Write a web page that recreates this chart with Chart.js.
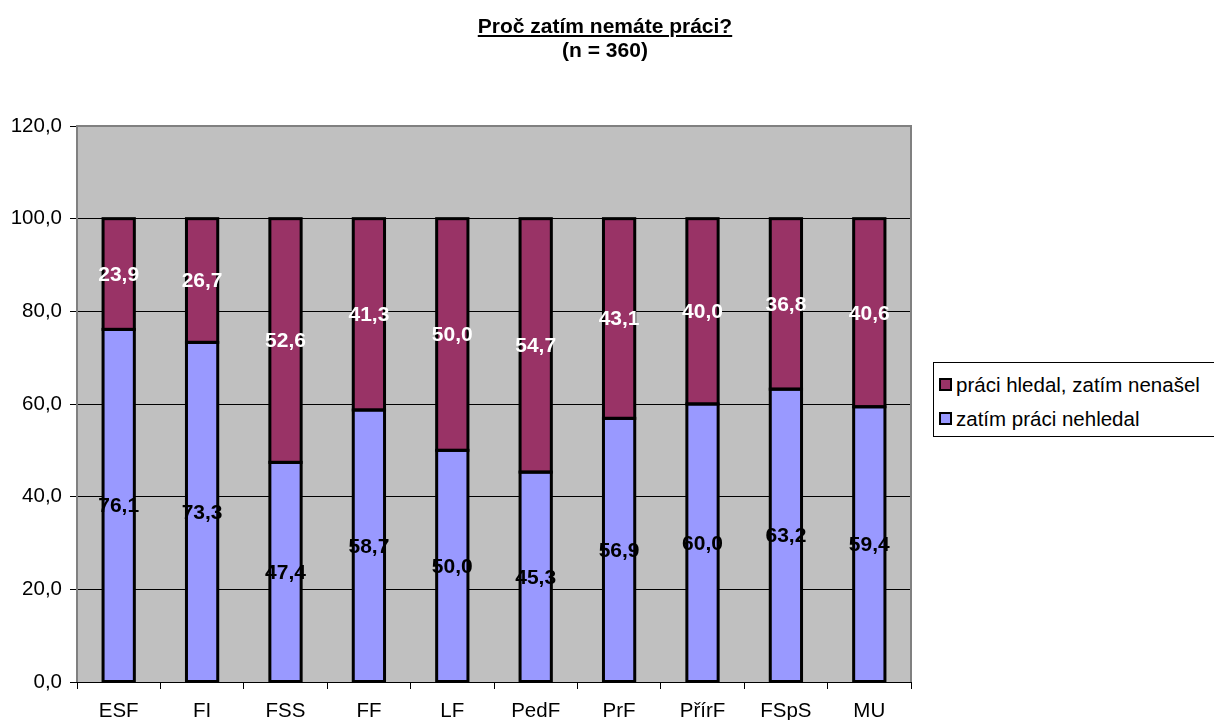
<!DOCTYPE html>
<html>
<head>
<meta charset="utf-8">
<script src="https://cdn.jsdelivr.net/npm/chart.js@4"></script>
<style>
  html, body { margin: 0; padding: 0; background: #fff; }
  #wrap { position: relative; width: 1214px; height: 720px; overflow: hidden; font-family: "Liberation Sans", Arial, sans-serif; }
  #title { position: absolute; left: 355px; width: 500px; top: 14px; text-align: center; font-weight: bold; font-size: 21px; line-height: 24px; color: #000; }
  #title .u { text-decoration: underline; }
  #legend { position: absolute; left: 933px; top: 362px; width: 320px; height: 75px; border: 1px solid #000; background: #fff; box-sizing: border-box; }
  .li { position: absolute; left: 5px; font-size: 20.5px; line-height: 24px; color: #000; white-space: nowrap; }
  .sw { display: inline-block; width: 9px; height: 9px; border: 2px solid #000; vertical-align: middle; margin-right: 4px; position: relative; top: -2px; }
  canvas { position: absolute; left: 0; top: 0; }
</style>
</head>
<body>
<div id="wrap">
  <canvas id="c" width="1214" height="720"></canvas>
  <div id="title"><span class="u">Proč zatím nemáte práci?</span><br>(n = 360)</div>
  <div id="legend">
    <div class="li" style="top:10px"><span class="sw" style="background:#993366"></span>práci hledal, zatím nenašel</div>
    <div class="li" style="top:44px"><span class="sw" style="background:#9999FF"></span>zatím práci nehledal</div>
  </div>
</div>
<script>
const categories = ["ESF", "FI", "FSS", "FF", "LF", "PedF", "PrF", "PřírF", "FSpS", "MU"];
const notSearched = [76.1, 73.3, 47.4, 58.7, 50.0, 45.3, 56.9, 60.0, 63.2, 59.4];
const searchedNotFound = [23.9, 26.7, 52.6, 41.3, 50.0, 54.7, 43.1, 40.0, 36.8, 40.6];
const seriesNames = ["zatím práci nehledal", "práci hledal, zatím nenašel"];
const yTicks = [0, 20, 40, 60, 80, 100, 120];

const fmt = v => v.toFixed(1).replace('.', ',');

const bgPlugin = {
  id: 'bg',
  beforeDraw(chart) {
    const a = chart.chartArea, ctx = chart.ctx;
    ctx.save();
    ctx.fillStyle = '#C0C0C0';
    ctx.fillRect(a.left, a.top, a.right - a.left, a.bottom - a.top);
    ctx.restore();
  },
  afterDraw(chart) {
    const a = chart.chartArea, ctx = chart.ctx;
    ctx.save();
    ctx.strokeStyle = '#808080';
    ctx.lineWidth = 2;
    ctx.beginPath();
    ctx.moveTo(a.left, a.bottom);
    ctx.lineTo(a.left, a.top);
    ctx.lineTo(a.right, a.top);
    ctx.lineTo(a.right, a.bottom);
    ctx.stroke();
    ctx.strokeStyle = '#000';
    ctx.lineWidth = 1;
    ctx.beginPath();
    ctx.moveTo(a.left, a.bottom + 0.5);
    ctx.lineTo(a.right, a.bottom + 0.5);
    ctx.stroke();
    ctx.restore();
  }
};

const labelPlugin = {
  id: 'vals',
  afterDatasetsDraw(chart) {
    const ctx = chart.ctx;
    ctx.save();
    // bar outlines, from the library's bar elements
    ctx.strokeStyle = '#000';
    ctx.lineWidth = 3;
    ctx.lineJoin = 'miter';
    chart.data.datasets.forEach((ds, i) => {
      chart.getDatasetMeta(i).data.forEach(el => {
        const w = el.width;
        ctx.strokeRect(el.x - w / 2, Math.min(el.y, el.base), w, Math.abs(el.base - el.y));
      });
    });
    ctx.font = 'bold 21px "Liberation Sans", Arial, sans-serif';
    ctx.textAlign = 'center';
    ctx.textBaseline = 'middle';
    chart.data.datasets.forEach((ds, i) => {
      const meta = chart.getDatasetMeta(i);
      ctx.fillStyle = i === 0 ? '#000' : '#fff';
      meta.data.forEach((el, j) => {
        ctx.fillText(fmt(ds.data[j]), el.x, (el.y + el.base) / 2 + 1);
      });
    });
    ctx.restore();
  }
};

new Chart(document.getElementById('c'), {
  type: 'bar',
  data: {
    labels: categories,
    datasets: [
      { label: seriesNames[0], data: notSearched, backgroundColor: '#9999FF', borderWidth: 0, inflateAmount: 0, barPercentage: 0.375, categoryPercentage: 1 },
      { label: seriesNames[1], data: searchedNotFound, backgroundColor: '#993366', borderWidth: 0, inflateAmount: 0, barPercentage: 0.375, categoryPercentage: 1 }
    ]
  },
  options: {
    responsive: false,
    animation: false,
    devicePixelRatio: 1,
    layout: { padding: { top: 126, right: 303, left: 0, bottom: 0 } },
    plugins: { legend: { display: false }, title: { display: false }, tooltip: { enabled: false } },
    scales: {
      x: {
        stacked: true,
        grid: { display: true, drawOnChartArea: false, color: '#000', tickLength: 7, offset: true },
        border: { display: false },
        ticks: { color: '#000', font: { size: 20.5, family: '"Liberation Sans", Arial, sans-serif' }, padding: 10, maxRotation: 0 },
        afterFit(s) { s.height = 38; }
      },
      y: {
        stacked: true,
        min: 0, max: 120,
        afterBuildTicks(s) { s.ticks = yTicks.map(v => ({ value: v })); },
        grid: { color: '#000', lineWidth: 1, tickLength: 7 },
        border: { display: false },
        ticks: { color: '#000', font: { size: 20.5, family: '"Liberation Sans", Arial, sans-serif' }, padding: 8, callback: v => fmt(v) },
        afterFit(s) { s.width = 77; }
      }
    }
  },
  plugins: [bgPlugin, labelPlugin]
});
</script>
</body>
</html>
